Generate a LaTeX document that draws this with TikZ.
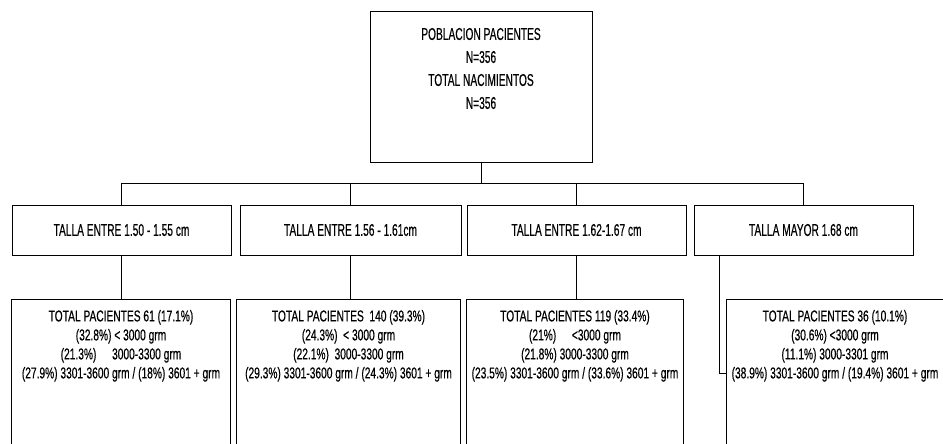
\documentclass[tikz,border=0pt]{standalone}
\usepackage{fontspec}
\setmainfont{Liberation Sans}[FakeStretch=0.6,FakeBold=0.4]
\newfontfamily\lowfont{Liberation Sans}[FakeStretch=0.65,FakeBold=0.4]
\usetikzlibrary{calc}
\begin{document}
\begin{tikzpicture}[x=1pt,y=-1pt,line width=1pt,
  txt/.style={font=\fontsize{17}{23}\selectfont},
  topbox/.style={draw,inner sep=0pt,txt},
  midbox/.style={draw,inner sep=0pt,minimum height=50pt,txt},
  lowbox/.style={draw=none,inner sep=0pt,font=\lowfont\fontsize{15.7}{19}\selectfont},
  conn/.style={draw,line width=1pt}]
\useasboundingbox (0,0) rectangle (943,444);
% top
\node[topbox] (top) at (481,87) {\begin{minipage}[c][150pt][t]{222pt}\centering\vspace*{16pt}
POBLACION PACIENTES\\N=356\\TOTAL NACIMIENTOS\\N=356\end{minipage}};
% level 2
\node[midbox,minimum width=219pt] (b1) at (121.5,230) {TALLA ENTRE 1.50 - 1.55 cm};
\node[midbox,minimum width=221pt] (b2) at (350.5,230) {TALLA ENTRE 1.56 - 1.61cm};
\node[midbox,minimum width=219pt] (b3) at (576.5,230) {TALLA ENTRE 1.62-1.67 cm};
\node[midbox,minimum width=219pt] (b4) at (803.5,230) {TALLA MAYOR 1.68 cm};
% level 3
\node[lowbox] (c1) at (121,375) {\begin{minipage}[c][150pt][t]{218pt}\centering\vspace*{10pt}
TOTAL PACIENTES 61 (17.1\%)\\(32.8\%) < 3000 grm\\(21.3\%)\quad 3000-3300 grm\\(27.9\%) 3301-3600 grm / (18\%) 3601 + grm\end{minipage}};
\node[lowbox] (c2) at (348.5,375) {\begin{minipage}[c][150pt][t]{223pt}\centering\vspace*{10pt}
TOTAL PACIENTES~ 140 (39.3\%)\\(24.3\%)~ < 3000 grm\\(22.1\%)~ 3000-3300 grm\\(29.3\%) 3301-3600 grm / (24.3\%) 3601 + grm\end{minipage}};
\node[lowbox] (c3) at (575,375) {\begin{minipage}[c][150pt][t]{216pt}\centering\vspace*{10pt}
TOTAL PACIENTES 119 (33.4\%)\\(21\%)\quad <3000 grm\\(21.8\%) 3000-3300 grm\\(23.5\%) 3301-3600 grm / (33.6\%) 3601 + grm\end{minipage}};
\node[lowbox] (c4) at (835,375) {\begin{minipage}[c][150pt][t]{216pt}\centering\vspace*{10pt}
TOTAL PACIENTES 36 (10.1\%)\\(30.6\%) <3000 grm\\(11.1\%) 3000-3301 grm\\(38.9\%) 3301-3600 grm / (19.4\%) 3601 + grm\end{minipage}};
\foreach \c in {c1,c2,c3,c4}{
  \draw (\c.south west) -- (\c.north west) -- (\c.north east) -- (\c.south east);
}
% connectors
\coordinate (bus) at (481,183);
\draw[conn] (top.south) -- (top.south |- bus);
\draw[conn] (b1.north) -- (b1.north |- bus) -- (b4.north |- bus) -- (b4.north);
\draw[conn] (b2.north) -- (b2.north |- bus);
\draw[conn] (b3.north) -- (b3.north |- bus);
\draw[conn] (b1.south) -- (b1.south |- c1.north);
\draw[conn] (b2.south) -- (b2.south |- c2.north);
\draw[conn] (b3.south) -- (b3.south |- c3.north);
\coordinate (j4) at (719,373);
\draw[conn] (b4.south -| j4) -- (j4) -- (j4 -| c4.west);
\end{tikzpicture}
\end{document}
